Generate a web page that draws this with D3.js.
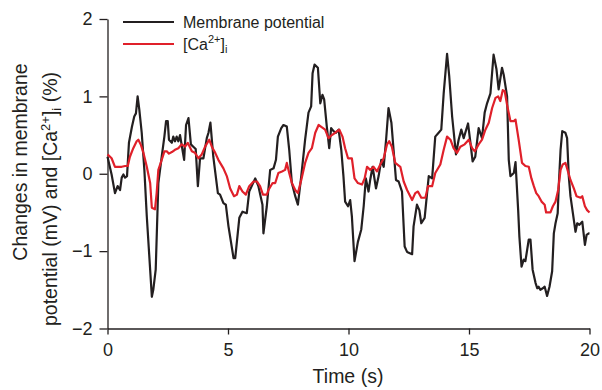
<!DOCTYPE html>
<html><head><meta charset="utf-8">
<script src="https://cdn.jsdelivr.net/npm/d3@7"></script>
<style>
body{margin:0;background:#fff}
svg{display:block}
text{font-family:"Liberation Sans",Arial,Helvetica,sans-serif;fill:#231f20}
</style>
</head><body>
<svg id="chart" width="602" height="390"></svg>
<script>
const timeVm = [0.00,0.17,0.31,0.42,0.52,0.59,0.66,0.73,0.81,0.89,
1.01,1.11,1.18,1.25,1.32,1.42,1.53,1.63,1.77,1.84,
1.90,2.00,2.11,2.25,2.36,2.43,2.50,2.55,2.67,2.73,
2.80,2.87,2.94,3.01,3.11,3.18,3.26,3.36,3.46,3.56,
3.66,3.75,3.84,3.98,4.12,4.19,4.27,4.39,4.58,4.67,
4.81,4.91,5.02,5.23,5.30,5.47,5.60,5.78,5.88,6.13,
6.26,6.43,6.47,6.61,6.75,6.89,6.99,7.07,7.21,7.30,
7.44,7.54,7.65,7.79,7.90,8.04,8.20,8.34,8.45,8.51,
8.59,8.73,8.83,8.92,8.99,9.10,9.20,9.28,9.38,9.48,
9.59,9.70,9.79,9.86,9.98,10.07,10.14,10.25,10.39,10.53,
10.63,10.72,10.83,10.90,11.00,11.14,11.25,11.36,11.46,11.56,
11.66,11.78,11.87,11.97,12.08,12.22,12.33,12.43,12.64,12.70,
12.84,12.94,13.02,13.16,13.33,13.47,13.60,13.74,13.85,13.95,
14.09,14.18,14.30,14.46,14.57,14.68,14.78,14.96,15.06,15.15,
15.26,15.40,15.54,15.65,15.75,15.89,16.02,16.14,16.23,16.37,
16.44,16.58,16.65,16.72,16.86,16.93,17.04,17.09,17.18,17.27,
17.34,17.48,17.55,17.64,17.76,17.83,17.89,17.96,18.06,18.14,
18.24,18.34,18.45,18.52,18.59,18.68,18.73,18.80,18.87,19.00,
19.07,19.14,19.21,19.31,19.42,19.49,19.58,19.70,19.81,19.88,
19.97,20.00];
const vm = [0.22,-0.01,-0.25,-0.16,-0.21,-0.05,-0.01,-0.05,-0.03,0.40,
0.60,0.74,0.78,1.00,0.83,0.53,0.05,-0.55,-1.24,-1.59,
-1.50,-1.24,-0.12,0.22,0.48,0.68,0.68,0.44,0.40,0.48,
0.42,0.48,0.42,0.50,0.31,0.18,0.63,0.72,0.38,0.35,
0.32,-0.16,0.20,0.20,0.46,0.53,0.66,0.22,-0.25,-0.27,
-0.38,-0.40,-0.68,-1.09,-1.09,-0.57,-0.49,-0.51,-0.23,-0.06,
-0.16,-0.40,-0.77,-0.42,0.05,0.07,0.18,0.48,0.59,0.63,
0.61,0.31,-0.12,-0.29,-0.40,-0.03,0.44,0.79,0.87,1.30,
1.41,1.37,0.91,1.02,0.96,0.61,0.33,0.59,0.55,0.53,
0.57,0.31,-0.03,-0.36,-0.42,-0.34,-0.55,-1.13,-0.88,-0.72,
-0.42,-0.06,-0.23,-0.08,0.09,-0.19,-0.03,0.18,0.09,0.44,
0.85,0.66,0.31,-0.08,-0.10,-0.23,-0.94,-1.01,-1.04,-0.68,
-0.40,-0.47,-0.64,-0.57,-0.03,-0.06,0.48,0.53,0.57,1.04,
1.55,1.26,0.74,0.25,0.44,0.57,0.46,0.65,0.40,0.16,
0.22,0.59,0.46,0.79,0.91,1.04,1.54,1.35,1.09,1.37,
1.28,1.00,0.18,-0.03,0.01,0.15,-0.47,-0.81,-1.20,-1.11,
-1.13,-0.85,-0.85,-1.24,-1.41,-1.48,-1.46,-1.50,-1.48,-1.46,
-1.58,-1.46,-1.26,-0.77,-0.64,-0.51,-0.12,0.31,0.55,0.53,
0.46,-0.03,-0.29,-0.51,-0.75,-0.64,-0.66,-0.62,-0.92,-0.79,
-0.77,-0.77];
const timeCa = [0.00,0.17,0.31,0.44,0.59,0.73,0.84,0.93,1.07,1.21,
1.28,1.39,1.49,1.63,1.77,1.84,1.97,2.04,2.11,2.25,
2.36,2.46,2.55,2.67,2.80,2.94,3.08,3.22,3.33,3.50,
3.63,3.77,3.91,4.05,4.22,4.33,4.47,4.60,4.81,4.95,
5.09,5.25,5.37,5.47,5.60,5.74,5.88,6.06,6.20,6.33,
6.45,6.61,6.68,6.85,6.96,7.09,7.24,7.37,7.44,7.54,
7.65,7.79,7.90,8.04,8.20,8.34,8.48,8.62,8.76,8.90,
9.03,9.17,9.31,9.45,9.62,9.75,9.86,9.98,10.14,10.25,
10.39,10.56,10.67,10.77,10.90,11.04,11.18,11.32,11.46,11.60,
11.69,11.80,11.94,12.15,12.29,12.43,12.64,12.77,12.88,13.02,
13.19,13.30,13.47,13.60,13.81,13.95,14.09,14.23,14.36,14.50,
14.64,14.82,14.99,15.13,15.24,15.40,15.54,15.68,15.82,15.96,
16.10,16.21,16.30,16.40,16.48,16.58,16.72,16.86,16.93,17.06,
17.20,17.34,17.48,17.59,17.69,17.79,17.89,18.01,18.14,18.20,
18.38,18.48,18.59,18.70,18.80,18.89,19.00,19.07,19.21,19.35,
19.46,19.63,19.70,19.81,19.90,20.00];
const ca = [0.25,0.20,0.09,0.09,0.09,0.10,0.10,0.22,0.33,0.42,
0.44,0.37,0.27,0.09,-0.12,-0.44,-0.46,-0.25,0.05,0.18,
0.29,0.29,0.26,0.28,0.31,0.33,0.38,0.35,0.40,0.29,
0.27,0.20,0.25,0.35,0.44,0.35,0.27,0.18,0.07,-0.03,
-0.19,-0.29,-0.27,-0.16,-0.23,-0.27,-0.16,-0.10,-0.10,-0.16,
-0.27,-0.27,-0.21,-0.12,-0.12,0.01,0.03,0.05,0.14,0.01,
-0.12,-0.21,-0.25,-0.08,0.14,0.27,0.33,0.53,0.63,0.60,
0.57,0.46,0.50,0.53,0.57,0.48,0.33,0.20,0.20,-0.06,
-0.12,-0.14,-0.06,0.09,0.05,0.09,0.03,0.12,0.20,0.38,
0.42,0.35,0.14,0.09,-0.10,-0.21,-0.34,-0.25,-0.23,-0.31,
-0.31,-0.16,-0.16,0.01,0.12,0.31,0.48,0.44,0.33,0.27,
0.35,0.38,0.44,0.33,0.29,0.38,0.44,0.57,0.66,0.85,
0.98,1.00,0.94,1.08,1.07,0.89,0.68,0.68,0.70,0.44,
0.14,0.10,0.09,-0.06,-0.16,-0.25,-0.29,-0.36,-0.40,-0.50,
-0.50,-0.42,-0.36,-0.21,0.05,0.12,0.14,0.07,-0.08,-0.19,
-0.29,-0.31,-0.29,-0.42,-0.47,-0.50];
const xTicks = [0, 5, 10, 15, 20];
const yTicks = [-2, -1, 0, 1, 2];
const seriesNames = ["Membrane potential", "[Ca2+]i"];
const seriesColors = ["#231f20", "#e0202a"];

const svg = d3.select("#chart");
const x = d3.scaleLinear().domain([0, 20]).range([107.5, 589.5]);
const y = d3.scaleLinear().domain([-2, 2]).range([328.5, 19]);

const xAxis = svg.append("g").attr("transform", `translate(0,${y(-2)})`)
  .call(d3.axisBottom(x).tickValues(xTicks).tickFormat(d3.format("d"))
    .tickSize(6).tickSizeOuter(0).tickPadding(9));
const yAxis = svg.append("g").attr("transform", `translate(${x(0)},0)`)
  .call(d3.axisLeft(y).tickValues(yTicks).tickFormat(d3.format("d"))
    .tickSize(8).tickSizeOuter(0).tickPadding(7));
[xAxis, yAxis].forEach(g => {
  g.selectAll("path,line").attr("stroke", "#231f20").attr("stroke-width", 1.3);
  g.selectAll("text").attr("font-size", 18).attr("fill", "#231f20")
    .attr("font-family", '"Liberation Sans",Arial,sans-serif');
});

const line = d3.line().x(d => x(d[0])).y(d => y(d[1]));
svg.append("path").datum(d3.zip(timeVm, vm))
  .attr("fill", "none").attr("stroke", seriesColors[0]).attr("stroke-width", 2.2)
  .attr("stroke-linejoin", "round").attr("d", line);
svg.append("path").datum(d3.zip(timeCa, ca))
  .attr("fill", "none").attr("stroke", seriesColors[1]).attr("stroke-width", 2.2)
  .attr("stroke-linejoin", "round").attr("d", line);

// axis titles
svg.append("text").attr("x", 348).attr("y", 383).attr("text-anchor", "middle")
  .attr("font-size", 19.5).text("Time (s)");
svg.append("text").attr("transform", "translate(27,162) rotate(-90)")
  .attr("text-anchor", "middle").attr("font-size", 19.5).text("Changes in membrane");
const yl2 = svg.append("text").attr("transform", "translate(57,199) rotate(-90)")
  .attr("text-anchor", "middle").attr("font-size", 19.5);
yl2.append("tspan").text("potential (mV) and [Ca");
yl2.append("tspan").attr("dy", -7).attr("font-size", 13).text("2+");
yl2.append("tspan").attr("dy", 7).text("]");
yl2.append("tspan").attr("dy", 4).attr("font-size", 13).text("i");
yl2.append("tspan").attr("dy", -4).text(" (%)");

// legend
const leg = svg.append("g");
[22, 44].forEach((ly, i) => {
  leg.append("line").attr("x1", 123).attr("x2", 174).attr("y1", ly).attr("y2", ly)
    .attr("stroke", seriesColors[i]).attr("stroke-width", 2.2);
});
leg.append("text").attr("x", 183).attr("y", 27.5).attr("font-size", 16).text(seriesNames[0]);
const lt = leg.append("text").attr("x", 183).attr("y", 50).attr("font-size", 16);
lt.append("tspan").text("[Ca");
lt.append("tspan").attr("dy", -7).attr("font-size", 11).text("2+");
lt.append("tspan").attr("dy", 7).text("]");
lt.append("tspan").attr("dy", 3).attr("font-size", 11).text("i");
</script>
</body></html>
